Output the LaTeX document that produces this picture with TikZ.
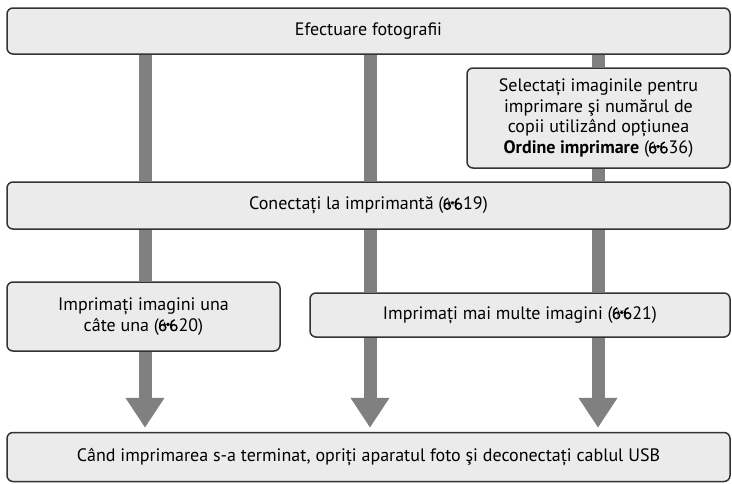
\documentclass[tikz,border=0pt]{standalone}
\usepackage{fontspec}
\setmainfont{PT Sans}
\usetikzlibrary{arrows.meta,backgrounds}

% small page-reference mark (binoculars)
\newcommand{\binref}{\tikz[baseline=0pt,x=1em,y=1em,line width=0.08em]{%
    \draw (0.22,0.2) circle (0.17);
    \draw (0.84,0.2) circle (0.17);
    \draw (0.05,0.2) .. controls (0.05,0.5) and (0.1,0.62) .. (0.26,0.64);
    \draw (0.67,0.2) .. controls (0.67,0.5) and (0.72,0.62) .. (0.88,0.64);
    \fill (0.28,0.3) rectangle (0.74,0.47);}\kern0.05em}

\begin{document}
\begin{tikzpicture}[x=1pt,y=-1pt]
    \tikzset{
        boxstyle/.style={draw=black!80, line width=1.5pt, fill=black!8, rounded corners=6pt,
            align=center, inner sep=0pt, font=\fontsize{18}{20.7}\selectfont},
        barstyle/.style={draw=black!50, line width=13pt},
        arrowstyle/.style={barstyle, -{Triangle[width=37pt,length=30pt]}, shorten >=4pt}
    }
    \useasboundingbox (0,0) rectangle (732,483);

    % --- colonnes des barres ---
    \coordinate (colA) at (145,0);
    \coordinate (colB) at (370,0);
    \coordinate (colC) at (598,0);

    % --- cadres ---
    \node[boxstyle, minimum width=723pt, minimum height=46pt] (shoot) at (368.5,31)
        {Efectuare fotografii};
    \node[boxstyle, minimum width=263pt, minimum height=100pt] (select) at (598.5,118)
        {Selectați imaginile pentru\\ imprimare şi numărul de\\ copii utilizând opțiunea\\
         \textbf{Ordine imprimare} (\binref36)};
    \node[boxstyle, minimum width=723pt, minimum height=47pt] (conn) at (368.5,205.5)
        {Conectați la imprimantă (\binref19)};
    \node[boxstyle, minimum width=273pt, minimum height=69pt] (single) at (143.5,316.5)
        {Imprimați imagini una\\ câte una (\binref20)};
    \node[boxstyle, minimum width=420pt, minimum height=44pt] (multi) at (520,315)
        {Imprimați mai multe imagini (\binref21)};
    \node[boxstyle, minimum width=723pt, minimum height=49pt] (last) at (368.5,457)
        {Când imprimarea s-a terminat, opriți aparatul foto şi deconectați cablul USB};

    % --- barres et flèches (derrière les cadres) ---
    \begin{scope}[on background layer]
        % colonne A
        \draw[barstyle] (shoot.south -| colA) -- (conn.north -| colA);
        \draw[barstyle] (conn.south -| colA) -- (single.north -| colA);
        \draw[arrowstyle] (single.south -| colA) -- (last.north -| colA);
        % colonne B
        \draw[barstyle] (shoot.south -| colB) -- (conn.north -| colB);
        \draw[barstyle] (conn.south -| colB) -- (multi.north -| colB);
        \draw[arrowstyle] (multi.south -| colB) -- (last.north -| colB);
        % colonne C
        \draw[barstyle] (shoot.south -| colC) -- (select.north -| colC);
        \draw[barstyle] (select.south -| colC) -- (conn.north -| colC);
        \draw[barstyle] (conn.south -| colC) -- (multi.north -| colC);
        \draw[arrowstyle] (multi.south -| colC) -- (last.north -| colC);
    \end{scope}

\end{tikzpicture}
\end{document}
